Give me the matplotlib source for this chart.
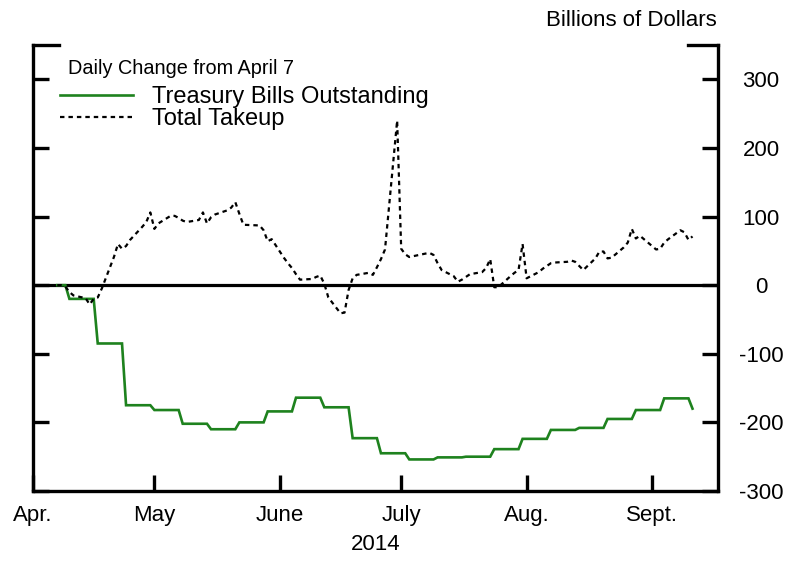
import matplotlib
matplotlib.use("Agg")
import matplotlib.pyplot as plt
import pandas as pd

# ---------------- data ----------------
holidays = ["2014-05-26", "2014-07-04", "2014-09-01"]
start_date = "2014-04-07"
end_date = "2014-09-11"

# Total takeup, daily change from April 7 (billions), one value per business day
takeup_values = [
    # April 7 - 30
    0, 0, -2, -10, -15,
    -19, -28, -20, -18, -5,
    41, 60, 53, 57, 66,
    85, 92, 106,
    # May
    82, 90,
    101, 101, 98, 94, 92,
    95, 106, 90, 99, 103,
    109, 113, 121, 104, 88,
    87, 80, 64, 67,
    # June
    40, 32, 25, 16, 8,
    9, 12, 14, 2, -18,
    -41, -40, -7, 10, 15,
    18, 15, 26, 38, 52,
    240,
    # July
    53, 45, 41,
    46, 47, 44, 32, 22,
    13, 5, 8, 12, 16,
    19, 25, 38, -3, -3,
    13, 18, 22, 60,
    # August
    10,
    19, 24, 28, 32, 33,
    34, 36, 34, 28, 22,
    39, 49, 49, 39, 40,
    55, 62, 82, 68, 72,
    # September
    52, 53, 62, 67,
    80, 77, 66, 71,
]

# Treasury bills outstanding, change from April 7 (weekly settlement steps)
bill_change_dates = [
    "2014-04-07", "2014-04-10", "2014-04-17", "2014-04-24", "2014-05-01",
    "2014-05-08", "2014-05-15", "2014-05-22", "2014-05-29", "2014-06-05",
    "2014-06-12", "2014-06-19", "2014-06-26", "2014-07-03", "2014-07-10",
    "2014-07-17", "2014-07-24", "2014-07-31", "2014-08-07", "2014-08-14",
    "2014-08-21", "2014-08-28", "2014-09-04", "2014-09-11",
]
bill_levels = [
    0, -20, -85, -175, -182,
    -202, -210, -200, -184, -164,
    -178, -223, -245, -254, -251,
    -250, -239, -224, -211, -208,
    -195, -182, -165, -180,
]

month_ticks = ["2014-04-01", "2014-05-01", "2014-06-01", "2014-07-01",
               "2014-08-01", "2014-09-01"]
month_labels = ["Apr.", "May", "June", "July", "Aug.", "Sept."]
y_ticks = [-300, -200, -100, 0, 100, 200, 300]

# ---------------- build series ----------------
bdays = pd.bdate_range(start_date, end_date, freq="C", holidays=holidays)
takeup = pd.Series(takeup_values, index=bdays)
bills = (pd.Series(bill_levels, index=pd.to_datetime(bill_change_dates))
         .reindex(bdays, method="ffill"))

# ---------------- figure ----------------
plt.rcParams["font.family"] = ["Liberation Sans", "DejaVu Sans"]
W, H = 787, 562
fig = plt.figure(figsize=(W / 100, H / 100), dpi=100)
ax = fig.add_axes([33 / W, 1 - 491 / H, (718 - 33) / W, (491 - 45) / H])

green = "#1e821e"
ax.plot(bills.index, bills.values, color=green, lw=1.9,
        label="Treasury Bills Outstanding", solid_joinstyle="miter")
ax.plot(takeup.index, takeup.values, color="black", lw=1.6,
        linestyle=(0, (2.0, 1.8)), label="Total Takeup")
ax.axhline(0, color="black", lw=2.3, zorder=1)

x0 = pd.Timestamp("2014-04-01")
ax.set_xlim(x0, x0 + pd.Timedelta(days=169.3))
ax.set_ylim(-300, 350)

# spines
for s in ["left", "right", "bottom"]:
    ax.spines[s].set_linewidth(2.4)
ax.spines["top"].set_visible(False)
# top caps
ax.plot([0, 0.038], [1, 1], transform=ax.transAxes, color="black", lw=2.4,
        clip_on=False, solid_capstyle="projecting")
ax.plot([1 - 0.044, 1], [1, 1], transform=ax.transAxes, color="black", lw=2.4,
        clip_on=False, solid_capstyle="projecting")

# x ticks
ax.set_xticks(pd.to_datetime(month_ticks))
ax.set_xticklabels(month_labels)
ax.tick_params(axis="x", direction="in", length=11.5, width=2.4, pad=10,
               labelsize=16)
ax.set_xlabel("2014", fontsize=16, labelpad=6)

# y ticks
ax.set_yticks(y_ticks)
ax.set_yticklabels([str(v) for v in y_ticks])
ax.tick_params(axis="y", which="both", direction="in", length=11.5, width=2.4,
               left=True, right=True, labelleft=False, labelright=True,
               labelsize=16, pad=31)
for lbl in ax.get_yticklabels():
    lbl.set_horizontalalignment("center")

fig.text(717 / W, 1 - 20 / H, "Billions of Dollars", ha="right", va="center",
         fontsize=16)
fig.text(68 / W, 1 - 68.5 / H, "Daily Change from April 7", ha="left",
         va="center", fontsize=14.3)

leg = ax.legend(loc="upper left", bbox_to_anchor=(60 / W, 1 - 86 / H),
                bbox_transform=fig.transFigure, frameon=False, fontsize=17,
                handlelength=3.1, handletextpad=0.8, labelspacing=0.0,
                borderpad=0, borderaxespad=0)

fig.savefig("out.png", dpi=100)
